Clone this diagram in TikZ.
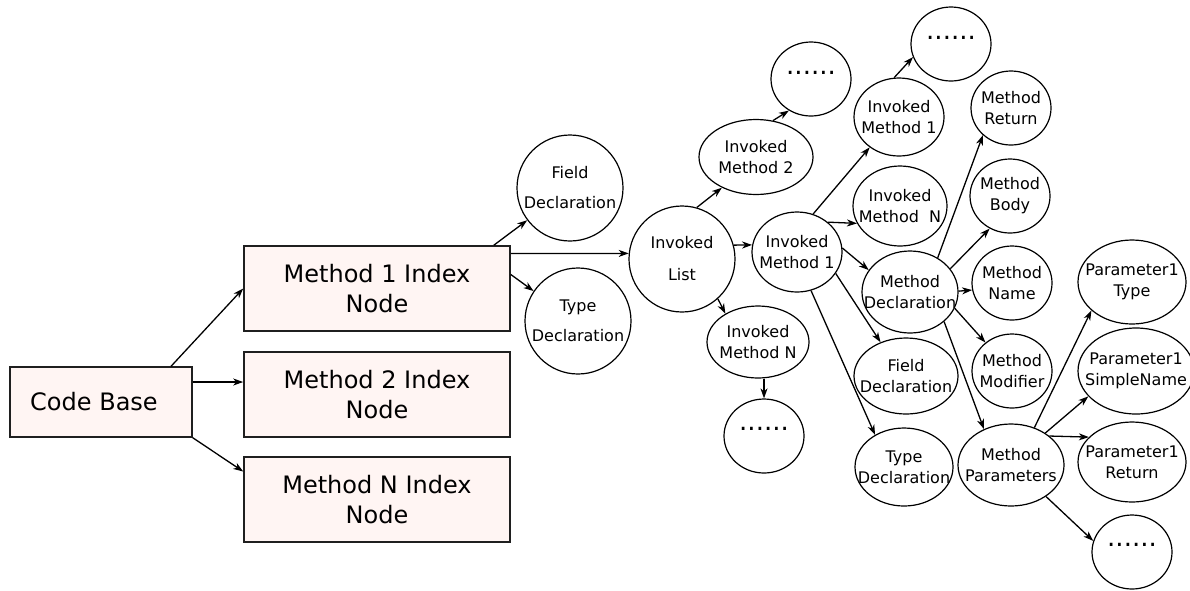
\documentclass[tikz,border=0pt]{standalone}
\usepackage{fontspec}
\setmainfont{DejaVu Sans}
\usetikzlibrary{shapes.geometric,arrows.meta}
\definecolor{boxfill}{HTML}{FFF5F3}
% zero-width centred line, so that the ellipse size comes from its minimum size only
\newcommand{\zl}[1]{\makebox[0pt][c]{#1}}

\begin{document}
\begin{tikzpicture}[x=1pt,y=-1pt,
  box/.style={draw=black!88, line width=1.6pt, fill=boxfill, inner sep=0pt,
    align=center, font=\fontsize{24}{30}\selectfont},
  idx/.style={box, minimum width=266pt, minimum height=85pt},
  ell/.style 2 args={draw, ellipse, line width=1.2pt, inner sep=0pt, align=center,
    minimum width=#1, minimum height=#2, font=\fontsize{16}{21}\selectfont},
  dotstxt/.style={font=\fontsize{26}{30}\selectfont, anchor=base, inner sep=0pt},
  link/.style={-{Stealth[length=10pt,width=7pt,inset=3pt]}, line width=1.3pt},
]
\useasboundingbox (0,0) rectangle (1190,590);

% code base and index nodes
\node[box, minimum width=182pt, minimum height=70pt, line width=1.3pt] (cb) at (101,402) {Code Base\hspace{14pt}};
\node[idx] (m1) at (377,288.5) {Method 1 Index\\Node};
\node[idx] (m2) at (377,394.5) {Method 2 Index\\Node};
\node[idx] (mn) at (377,499.5) {Method N Index\\Node};

% first level
\node[ell={106pt}{106pt}] (fd) at (570,188) {\zl{Field}\\[9pt]\zl{Declaration}};
\node[ell={106pt}{106pt}] (td) at (578,321) {\zl{Type}\\[9pt]\zl{Declaration}};
\node[ell={106pt}{106pt}] (il) at (682,259) {\zl{Invoked}\\[11pt]\zl{List}};

% invoked methods
\node[ell={114pt}{75pt}] (im2) at (756,157) {\zl{Invoked}\\\zl{Method 2}};
\node[ell={80pt}{74pt}] (d1) at (811,79) {};
\node[ell={90pt}{80pt}] (im1) at (797,252) {\zl{Invoked}\\\zl{Method 1}};
\node[ell={102pt}{72pt}] (imn) at (758,342) {\zl{Invoked}\\\zl{Method N}};
\node[ell={80pt}{74pt}] (d2) at (764,436) {};
\node[ell={90pt}{78pt}] (im1u) at (899,117) {\zl{Invoked}\\\zl{Method 1}};
\node[ell={80pt}{74pt}] (d3) at (951,44) {};
\node[ell={94pt}{80pt}] (imnu) at (900,206) {\zl{Invoked}\\\zl{Method~~N}};

% method parts
\node[ell={96pt}{82pt}] (md) at (910,292) {\zl{Method}\\\zl{Declaration}};
\node[ell={104pt}{76pt}] (fdr) at (906,376) {\zl{Field}\\\zl{Declaration}};
\node[ell={98pt}{78pt}] (tdr) at (904,467) {\zl{Type}\\\zl{Declaration}};
\node[ell={80pt}{74pt}] (mr) at (1011,108) {\zl{Method}\\\zl{Return}};
\node[ell={80pt}{74pt}] (mb) at (1010,196) {\zl{Method}\\\zl{Body}};
\node[ell={80pt}{74pt}] (mname) at (1012,283) {\zl{Method}\\\zl{Name}};
\node[ell={80pt}{74pt}] (mm) at (1012,371) {\zl{Method}\\\zl{Modifier}};
\node[ell={106pt}{82pt}] (mp) at (1011,465) {\zl{Method}\\\zl{Parameters}};

% parameters
\node[ell={108pt}{84pt}] (p1t) at (1132,282) {\zl{Parameter1}\\\zl{Type}};
\node[ell={116pt}{86pt}] (p1s) at (1136,371) {\zl{Parameter1}\\\zl{SimpleName}};
\node[ell={108pt}{80pt}] (p1r) at (1132,462) {\zl{Parameter1}\\\zl{Return}};
\node[ell={80pt}{74pt}] (d4) at (1132,552) {};

% ellipsis marks
\node[dotstxt] (d1t) at ([yshift=5pt]d1.center) {......};
\node[dotstxt] (d2t) at ([yshift=6pt]d2.center) {......};
\node[dotstxt] (d3t) at ([yshift=5pt]d3.center) {......};
\node[dotstxt] (d4t) at ([yshift=6pt]d4.center) {......};

% connectors
\coordinate (cbr) at ([yshift=20pt]cb.east);
\draw[link] (cb.27) -- (m1.west);
\draw[link] (cbr) -- (cbr -| m2.west);
\draw[link] (cb.south east) -- ([yshift=28pt]mn.west);

\draw[link] ([xshift=-17pt]m1.north east) -- (fd.217);
\draw[link] ([yshift=35pt]m1.east) -- (il.174);
\draw[link] ([yshift=14pt]m1.east) -- (td.146);

\draw[link] (il.74) -- (im2.222);
\draw[link] (im2.65) -- (d1.235);
\draw[link] (il.15) -- (im1.171);
\draw[link] (il.-48) -- (imn.139);
\draw[link] (imn.south -| d2.north) -- (d2.north);

\draw[link] (im1.67) -- (im1u.226);
\draw[link] (im1u.97) -- (d3.199);
\draw[link] (im1.44) -- (imnu.202);
\draw[link] (im1.5) -- (md.152);
\draw[link] (im1.-29) -- (fdr.127);
\draw[link] (im1.-70) -- (tdr.132);

\draw[link] (md.51) -- (mr.224);
\draw[link] (md.30) -- (mb.238);
\draw[link] (md.1) -- (mname.190);
\draw[link] (md.-20) -- (mm.133);
\draw[link] (md.-41) -- (mp.127);

\draw[link] (mp.58) -- (p1t.215);
\draw[link] (mp.43) -- (p1s.208);
\draw[link] (mp.37) -- (p1r.150);
\draw[link] (mp.-42) -- (d4.164);
\end{tikzpicture}
\end{document}
